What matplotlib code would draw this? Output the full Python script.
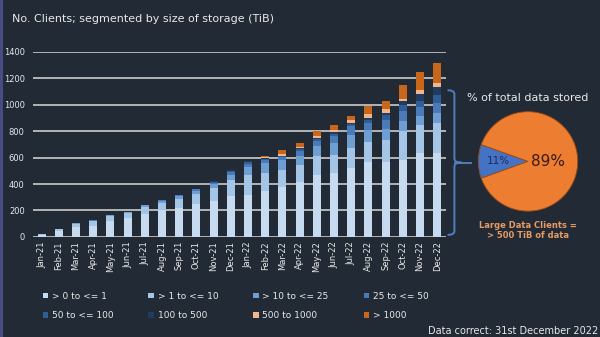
import numpy as np
import matplotlib.pyplot as plt
from matplotlib.patches import PathPatch
from matplotlib.path import Path

BG = '#222a36'
TXT = '#e8e8e8'

months = ['Jan-21', 'Feb-21', 'Mar-21', 'Apr-21', 'May-21', 'Jun-21',
          'Jul-21', 'Aug-21', 'Sep-21', 'Oct-21', 'Nov-21', 'Dec-21',
          'Jan-22', 'Feb-22', 'Mar-22', 'Apr-22', 'May-22', 'Jun-22',
          'Jul-22', 'Aug-22', 'Sep-22', 'Oct-22', 'Nov-22', 'Dec-22']

# client counts per storage band (TiB)
gt0_le1 = [15, 45, 75, 85, 120, 140, 175, 200, 220, 250, 275, 310,
           320, 344, 380, 419, 470, 483, 521, 566, 566, 584, 634, 634]
gt1_le10 = [5, 15, 25, 32, 35, 38, 50, 58, 68, 78, 95, 122,
            150, 139, 128, 127, 139, 140, 151, 152, 169, 214, 210, 228]
gt10_le25 = [2, 3, 5, 7, 9, 10, 13, 16, 18, 22, 28, 38,
             58, 75, 76, 63, 76, 87, 101, 93, 84, 76, 68, 76]
b25_le50 = [0, 0, 1, 2, 3, 4, 5, 6, 8, 9, 13, 22,
            25, 22, 18, 38, 40, 50, 63, 51, 68, 76, 68, 75]
b50_le100 = [0, 0, 0, 0, 0, 0, 2, 3, 3, 4, 6, 10,
             12, 12, 10, 15, 15, 20, 16, 24, 32, 45, 51, 58]
b100_500 = [0, 0, 0, 0, 0, 0, 0, 0, 1, 1, 3, 6,
            6, 6, 4, 10, 8, 11, 10, 14, 19, 31, 51, 61]
b500_1000 = [0, 0, 0, 0, 0, 0, 0, 0, 0, 0, 0, 0,
             0, 8, 8, 8, 12, 15, 20, 30, 30, 14, 32, 33]
gt1000 = [0, 0, 0, 0, 0, 0, 0, 0, 0, 0, 0, 0,
          0, 6, 30, 30, 40, 42, 35, 58, 63, 110, 134, 151]

series = [gt0_le1, gt1_le10, gt10_le25, b25_le50, b50_le100, b100_500, b500_1000, gt1000]
labels = ['> 0 to <= 1', '> 1 to <= 10', '> 10 to <= 25', '25 to <= 50',
          '50 to <= 100', '100 to 500', '500 to 1000', '> 1000']
colors = ['#c6dbef', '#a4c5e6', '#6f9fd2', '#4a7bb8', '#2f5d94', '#1f3c63', '#f3b58c', '#c8661c']

# share of total data stored
pie_share = [11, 89]
pie_labels = ['11%', '89%']

fig = plt.figure(figsize=(6, 3.37), dpi=100, facecolor=BG)
ax = fig.add_axes([0.055, 0.297, 0.688, 0.549], facecolor=BG)

x = np.arange(len(months))
bottom = np.zeros(len(months))
handles = []
for vals, lab, col in zip(series, labels, colors):
    h = ax.bar(x, vals, 0.46, bottom=bottom, color=col, label=lab, zorder=3, linewidth=0)
    handles.append(h)
    bottom += np.array(vals)

ax.set_ylim(0, 1400)
ax.set_xlim(-0.5, len(months) - 0.5)
ax.set_yticks(np.arange(0, 1401, 200))
ax.grid(axis='y', color='#d9d9d9', linewidth=1.1, zorder=0)
ax.set_xticks(x)
ax.set_xticklabels(months, rotation=90, fontsize=6, color=TXT)
ax.tick_params(axis='y', labelsize=6, colors=TXT, length=0, pad=6)
ax.tick_params(axis='x', length=0, pad=3)
for s in ax.spines.values():
    s.set_visible(False)

# legend: two rows of four
order = [0, 4, 1, 5, 2, 6, 3, 7]
leg = fig.legend([handles[i] for i in order], [labels[i] for i in order],
                 ncol=4, loc='upper left', bbox_to_anchor=(0.065, 0.145),
                 frameon=False, fontsize=6.5, labelcolor=TXT,
                 handlelength=0.6, handleheight=0.6, handletextpad=0.4,
                 columnspacing=3.9, labelspacing=1.15, borderaxespad=0)

fig.text(0.02, 0.945, 'No. Clients; segmented by size of storage (TiB)',
         fontsize=8, color=TXT, va='center', ha='left')

# brace tying the large-client bands to the pie
def brace(ax, xl, xr, y0, y1, tip):
    ym = (y0 + y1) / 2
    xm = (xl + xr) / 2
    verts = [(xl, y1), (xm, y1), (xm, y1 - 30), (xm, ym + 30),
             (xm, ym), (xr, ym), (xm, ym), (xm, ym - 30),
             (xm, y0 + 30), (xm, y0), (xl, y0)]
    codes = [Path.MOVETO, Path.CURVE3, Path.CURVE3, Path.LINETO,
             Path.CURVE3, Path.CURVE3, Path.CURVE3, Path.CURVE3,
             Path.LINETO, Path.CURVE3, Path.CURVE3]
    p = PathPatch(Path(verts, codes), fill=False, edgecolor='#4f7fbf',
                  linewidth=1.4, clip_on=False, zorder=5)
    ax.add_patch(p)
    ax.plot([xm + 0.05, tip], [ym, ym], color='#4f7fbf', lw=1.4, clip_on=False)

brace(ax, 23.6, 24.4, 15, 1110, 24.95)

# pie of total data stored
pax = fig.add_axes([0.796, 0.372, 0.168, 0.298])
pax.pie(pie_share, colors=['#4472c4', '#ed7d31'], startangle=180 - pie_share[0] * 1.8,
        counterclock=True, wedgeprops=dict(linewidth=0.6, edgecolor='#9a4a14'))
pax.text(-0.6, 0.0, pie_labels[0], ha='center', va='center', fontsize=7.5, color='#1f2a5c')
pax.text(0.4, 0.0, pie_labels[1], ha='center', va='center', fontsize=11, color='#3a1a10')
pax.set_xlim(-1.01, 1.01)
pax.set_ylim(-1.01, 1.01)
pax.set_aspect('equal')

fig.text(0.88, 0.71, '% of total data stored', fontsize=8, color=TXT, ha='center', va='center')
fig.text(0.88, 0.315, 'Large Data Clients =\n> 500 TiB of data', fontsize=6,
         fontweight='bold', color='#e79a62', ha='center', va='center', linespacing=1.1)

fig.text(0.713, 0.004, 'Data correct: 31st December 2022', fontsize=7, color=TXT,
         ha='left', va='bottom')

# slide border
fig.add_artist(plt.Line2D([0.002, 0.002], [0, 1], transform=fig.transFigure,
                          color='#4a4f8a', lw=2))

fig.savefig('out.png', dpi=100, facecolor=BG)
